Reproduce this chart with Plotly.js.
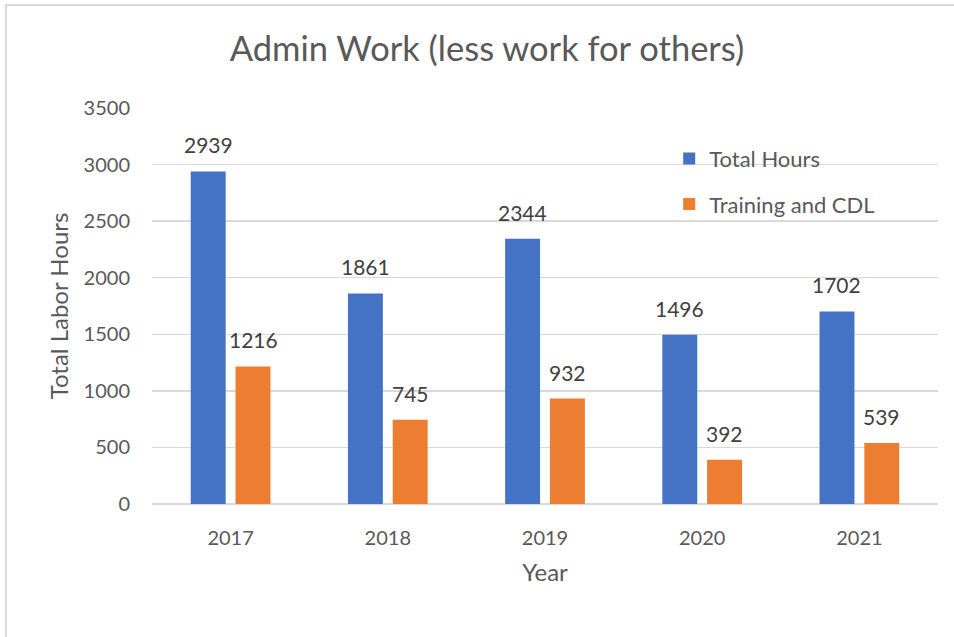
<!DOCTYPE html>
<html>
<head>
<meta charset="utf-8">
<script src="https://cdn.plot.ly/plotly-3.0.1.min.js"></script>
<style>
  body { margin: 0; background: #fff; }
  #chart { width: 954px; height: 637px; }
  #frame { position: absolute; left: 5px; top: 4px; width: 1000px; height: 700px;
           border-top: 2px solid #d9d9d9; border-left: 2px solid #d9d9d9; pointer-events: none; }
</style>
</head>
<body>
<div id="chart"></div>
<div id="frame"></div>
<script>
const years = ['2017', '2018', '2019', '2020', '2021'];
const totalHours = [2939, 1861, 2344, 1496, 1702];
const trainingCdl = [1216, 745, 932, 392, 539];

const font = 'Lato, "Open Sans", sans-serif';
const gray = '#595959';
const labelColor = '#404040';

const traces = [
  {
    type: 'bar', name: 'Total Hours', x: years, y: totalHours,
    marker: { color: '#4472C4' }, legendgroup: 'a', hoverinfo: 'skip',
  },
  {
    type: 'bar', name: 'Training and CDL', x: years, y: trainingCdl,
    marker: { color: '#ED7D31' }, legendgroup: 'b', hoverinfo: 'skip',
  },
];

// value labels above each bar
function labels(values, shift) {
  return values.map((v, i) => ({
    x: years[i], y: v, xref: 'x', yref: 'y',
    text: String(v), showarrow: false,
    xshift: shift, yshift: 12, yanchor: 'bottom',
    font: { size: 21, color: labelColor, family: font },
  }));
}

const layout = {
  width: 954, height: 637,
  paper_bgcolor: '#fff', plot_bgcolor: '#fff',
  font: { family: font, color: gray, size: 20 },
  margin: { l: 152, r: 16, t: 108, b: 133 },
  title: { text: 'Admin Work (less work for others)', font: { size: 34.5, color: gray, family: font },
           x: 0.5105, xanchor: 'center', y: 1 - 49 / 637, yanchor: 'middle' },
  bargap: 0.43, bargroupgap: 0.22,
  xaxis: {
    title: { text: 'Year', font: { size: 24, color: gray }, standoff: 16 },
    showgrid: false, showline: false, zeroline: false,
    ticks: 'outside', ticklen: 16, tickcolor: 'rgba(0,0,0,0)',
    tickfont: { size: 20, color: gray },
  },
  yaxis: {
    title: { text: 'Total Labor Hours', font: { size: 24, color: gray }, standoff: 8 },
    range: [0, 3500], dtick: 500, tick0: 0,
    gridcolor: '#d9d9d9', gridwidth: 1.5, zeroline: true, zerolinecolor: '#d9d9d9', zerolinewidth: 2,
    ticks: 'outside', ticklen: 17, tickcolor: 'rgba(0,0,0,0)',
    tickfont: { size: 20, color: gray },
  },
  annotations: [...labels(totalHours, -22.5), ...labels(trainingCdl, 22.5)],
  showlegend: true,
  legend: {
    x: 0.658, y: 0.925, xanchor: 'left', yanchor: 'top',
    bgcolor: 'rgba(0,0,0,0)', font: { size: 22, color: gray },
    traceorder: 'grouped', tracegroupgap: 14, itemclick: false,
  },
};

Plotly.newPlot('chart', traces, layout, { displayModeBar: false, staticPlot: true });
</script>
</body>
</html>
